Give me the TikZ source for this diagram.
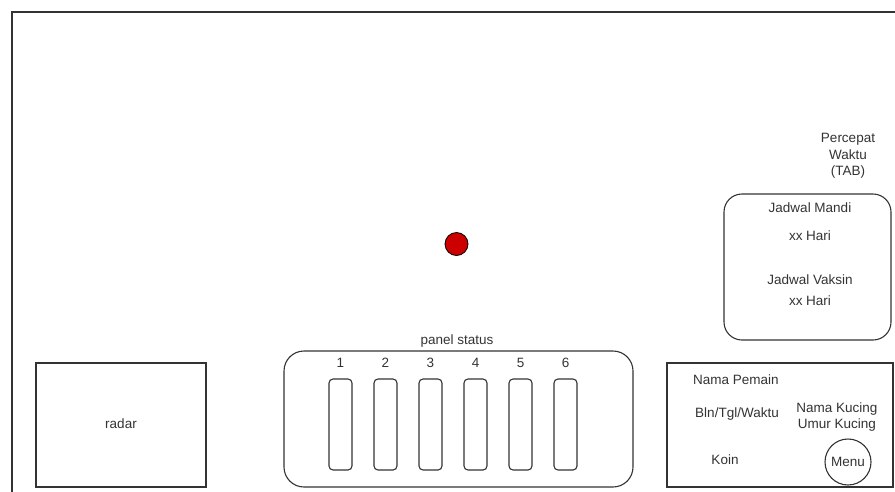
\documentclass[tikz,border=0pt]{standalone}
\usepackage{fontspec}
\setmainfont{Liberation Sans}
\definecolor{ln}{HTML}{333333}
\definecolor{tx}{HTML}{333333}
\definecolor{dot}{HTML}{CC0000}
\tikzset{
  box/.style={draw=ln, line width=1.1pt},
  lbl/.style={text=tx, font=\fontsize{13.5}{16}\selectfont, inner sep=0pt, align=center},
  bar/.style={draw=ln, line width=1.1pt, rounded corners=4pt, minimum width=23pt, minimum height=91pt, inner sep=0pt},
}
\begin{document}
\begin{tikzpicture}[x=1pt,y=-1pt]
\useasboundingbox (0,0) rectangle (895,491);
\clip (0,0) rectangle (895,491);
% outer frame (cropped)
\draw[draw=ln, line width=1.4pt] (12,500) -- (12,12) -- (905,12);
% red dot
\node[circle, draw=black, line width=0.8pt, fill=dot, minimum size=23pt, inner sep=0pt] (dotc) at (456.5,244) {};
% Percepat waktu
\node[lbl, font=\fontsize{13.5}{16.5}\selectfont] (tab) at (848,156) {Percepat\\Waktu\\(TAB)};
% jadwal box
\draw[box, rounded corners=18pt] (724,194) rectangle (891,340);
\node[lbl] (jm) at (810,208) {Jadwal Mandi};
\node[lbl] (jmh) at (810,236) {xx Hari};
\node[lbl] (jv) at (810,280) {Jadwal Vaksin};
\node[lbl] (jvh) at (810,301) {xx Hari};
% radar
\node[box, minimum width=170pt, minimum height=124pt, inner sep=0pt] (radar) at (121,425) {};
\node[lbl] (radart) at (121,424) {radar};
% panel status
\node[lbl] (pst) at (457,341) {panel status};
\draw[box, rounded corners=20pt] (284,351) rectangle (633,487);
\foreach \i in {1,...,6} {
  \pgfmathsetmacro{\xx}{340.5+45*(\i-1)}
  \node[lbl] (n\i) at (\xx,363) {\i};
  \node[bar] (b\i) at (\xx,424.5) {};
}
% info box
\draw[box] (667,363) rectangle (893,487);
\node[lbl] (np) at (736,380) {Nama Pemain};
\node[lbl] (btw) at (737,414) {Bln/Tgl/Waktu};
\node[lbl] (koin) at (725,460) {Koin};
\node[lbl, font=\fontsize{13.5}{16.5}\selectfont] (nk) at (837,417) {Nama Kucing\\Umur Kucing};
\node[circle, draw=ln, line width=1.1pt, minimum size=46pt, inner sep=0pt] (menu) at (848,462) {};
\node[lbl] (menut) at (848,462) {Menu};
\end{tikzpicture}
\end{document}
